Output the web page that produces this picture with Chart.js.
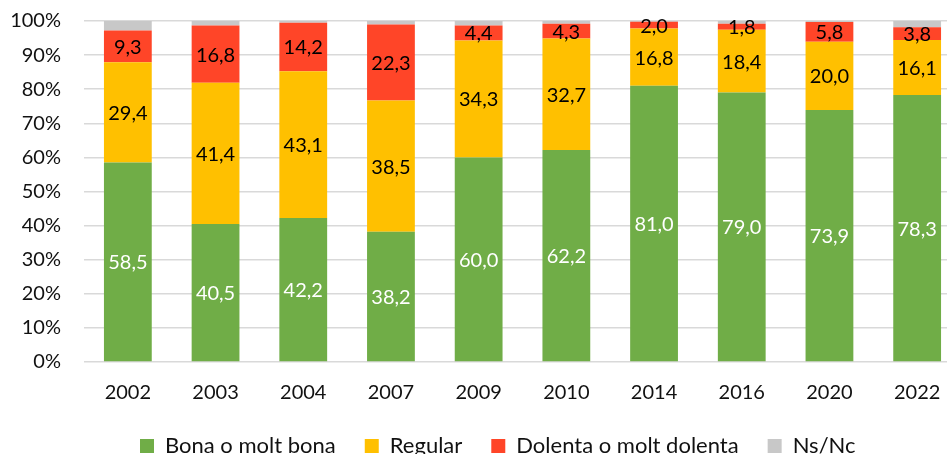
<!DOCTYPE html>
<html>
<head>
<meta charset="utf-8">
<script src="https://cdn.jsdelivr.net/npm/chart.js@4"></script>
<style>
    html, body { margin: 0; padding: 0; background: #fff; overflow: hidden; }
    #wrap { width: 961px; height: 454px; position: relative; }
</style>
</head>
<body>
<div id="wrap"><canvas id="healthChart"></canvas></div>
<script>
const years = ['2002', '2003', '2004', '2007', '2009', '2010', '2014', '2016', '2020', '2022'];
const bona = [58.5, 40.5, 42.2, 38.2, 60.0, 62.2, 81.0, 79.0, 73.9, 78.3];
const regular = [29.4, 41.4, 43.1, 38.5, 34.3, 32.7, 16.8, 18.4, 20.0, 16.1];
const dolenta = [9.3, 16.8, 14.2, 22.3, 4.4, 4.3, 2.0, 1.8, 5.8, 3.8];
const nsnc = [2.8, 1.3, 0.5, 1.0, 1.3, 0.8, 0.2, 0.8, 0.3, 1.8];
const yTicks = [0, 10, 20, 30, 40, 50, 60, 70, 80, 90, 100];

const FONT = 'Lato, "Open Sans", sans-serif';
const formatComma = (v) => v.toFixed(1).replace('.', ',');

// Value labels in the middle of each segment (grey one has none)
const segmentLabels = {
    id: 'segmentLabels',
    afterDatasetsDraw(chart) {
        const ctx = chart.ctx;
        ctx.save();
        ctx.font = '20px ' + FONT;
        ctx.textAlign = 'center';
        ctx.textBaseline = 'middle';
        chart.data.datasets.forEach((ds, di) => {
            if (di > 2) return;
            const meta = chart.getDatasetMeta(di);
            ctx.fillStyle = di === 0 ? '#ffffff' : '#000000';
            meta.data.forEach((bar, i) => {
                const yMid = (bar.y + bar.base) / 2;
                ctx.fillText(formatComma(ds.data[i]), bar.x, yMid + 1);
            });
        });
        ctx.restore();
    }
};

// Move legend to where the reference has it
const legendPlace = {
    id: 'legendPlace',
    afterLayout(chart) {
        const lg = chart.legend;
        if (!lg) return;
        const h = lg.bottom - lg.top;
        lg.left = 111;
        lg.right = 961;
        lg.top = 446 - 29 - 11;
        lg.bottom = lg.top + h;
    }
};

function initChart() {
    const ctx = document.getElementById('healthChart').getContext('2d');

    const data = {
        labels: years,
        datasets: [
            { label: 'Bona o molt bona', data: bona, backgroundColor: '#70AD47' },
            { label: 'Regular', data: regular, backgroundColor: '#FFC000' },
            { label: 'Dolenta o molt dolenta', data: dolenta, backgroundColor: '#FF4528' },
            { label: 'Ns/Nc', data: nsnc, backgroundColor: '#C8C8C8' }
        ]
    };

    const config = {
        type: 'bar',
        data: data,
        options: {
            responsive: true,
            maintainAspectRatio: false,
            animation: false,
            layout: { padding: { top: 21, left: 0, right: 0, bottom: -31 } },
            datasets: {
                bar: { categoryPercentage: 1, barPercentage: 0.545, borderWidth: 0 }
            },
            scales: {
                x: {
                    stacked: true,
                    grid: { display: false, drawTicks: false, tickLength: 0 },
                    border: { display: false },
                    ticks: { color: '#111', padding: 19, font: { family: FONT, size: 20 } }
                },
                y: {
                    stacked: true,
                    min: 0,
                    max: 100,
                    afterBuildTicks(scale) { scale.ticks = yTicks.map(v => ({ value: v })); },
                    grid: { color: '#D9D9D9', lineWidth: 1.5, drawTicks: false },
                    border: { display: false },
                    ticks: {
                        color: '#111',
                        padding: 23,
                        font: { family: FONT, size: 20 },
                        callback: (v) => v + '%'
                    },
                    afterFit(scale) {
                        scale.width = 84;
                        scale.paddingTop = 0;
                        scale.paddingBottom = 0;
                    }
                }
            },
            plugins: {
                legend: {
                    position: 'bottom',
                    align: 'start',
                    labels: {
                        boxWidth: 14,
                        boxHeight: 14,
                        padding: 29,
                        color: '#111',
                        font: { family: FONT, size: 22 }
                    }
                },
                tooltip: { enabled: false }
            }
        },
        plugins: [segmentLabels, legendPlace]
    };

    new Chart(ctx, config);
}

document.addEventListener('DOMContentLoaded', initChart);
</script>
</body>
</html>
